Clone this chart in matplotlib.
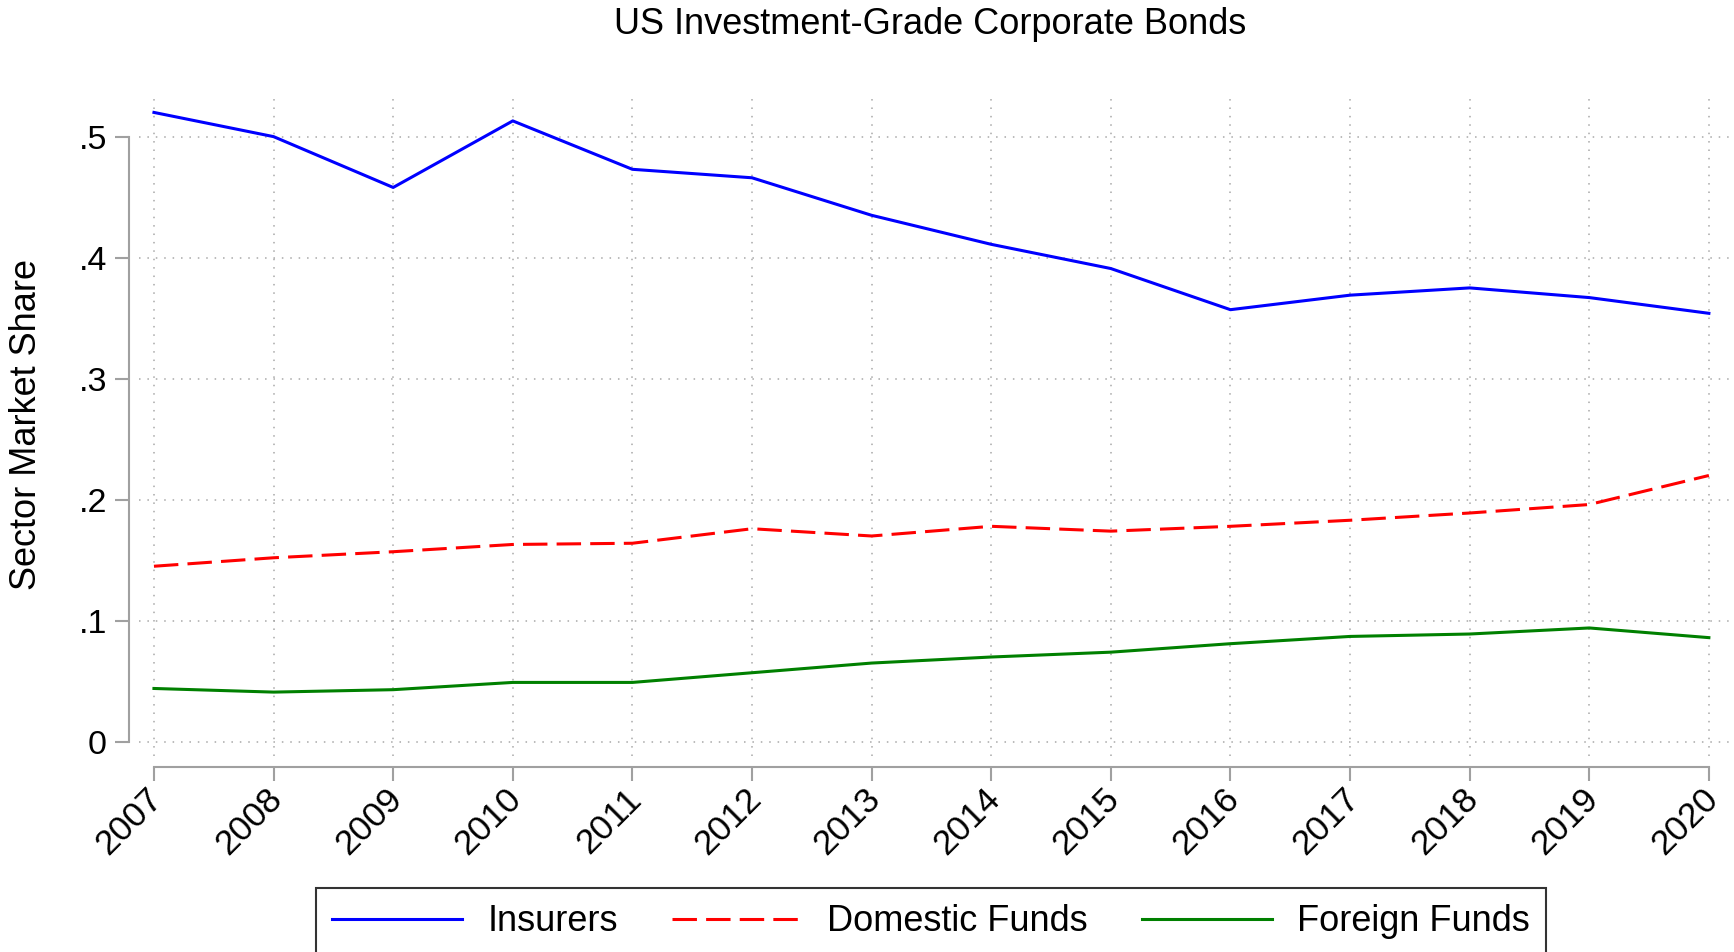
import matplotlib
matplotlib.use("Agg")
import matplotlib.pyplot as plt
import matplotlib.transforms as mtransforms

plt.rcParams['font.family'] = ['Liberation Sans', 'DejaVu Sans']

years = [2007, 2008, 2009, 2010, 2011, 2012, 2013, 2014, 2015, 2016, 2017, 2018, 2019, 2020]
insurers = [0.520, 0.500, 0.458, 0.513, 0.473, 0.466, 0.435, 0.411, 0.391, 0.357, 0.369, 0.375, 0.367, 0.354]
domestic = [0.145, 0.152, 0.157, 0.163, 0.164, 0.176, 0.170, 0.178, 0.174, 0.178, 0.183, 0.189, 0.196, 0.220]
foreign = [0.044, 0.041, 0.043, 0.049, 0.049, 0.057, 0.065, 0.070, 0.074, 0.081, 0.087, 0.089, 0.094, 0.086]
yticks = [0, 0.1, 0.2, 0.3, 0.4, 0.5]
ytick_labels = ['0', '.1', '.2', '.3', '.4', '.5']

fs = 26
tfs = 24.5
fig = plt.figure(figsize=(17.34, 9.52), dpi=100)
ax = fig.add_axes([139/1734, 1-756/952, 1-139/1734, (756-95)/952])

# stata-like detached axes (do this before setting ticks, set_position resets them)
for s in ['top', 'right']:
    ax.spines[s].set_visible(False)
ax.spines['left'].set_position(('outward', 7))
ax.spines['bottom'].set_position(('outward', 8))

ax.plot(years, insurers, color='#0000ff', lw=2.2, label='Insurers')
ax.plot(years, domestic, color='#ff0000', lw=2.2, dashes=(8, 3), label='Domestic Funds')
ax.plot(years, foreign, color='#008000', lw=2.2, label='Foreign Funds')

ax.set_xlim(2006.875, 2020.21)
ax.set_ylim(-0.0118, 0.5344)

ax.set_xticks(years)
ax.set_xticklabels([str(y) for y in years], rotation=45, ha='right', rotation_mode='anchor', fontsize=25.5)
ax.set_yticks(yticks)
ax.set_yticklabels(ytick_labels, fontsize=tfs)

ax.grid(True, color='#a8a8a8', linestyle=(0, (1, 4.5)), lw=1.1)

ax.spines['left'].set_bounds(0, 0.5)
ax.spines['bottom'].set_bounds(2007, 2020)
for s in ['left', 'bottom']:
    ax.spines[s].set_color('#a0a0a0')
    ax.spines[s].set_linewidth(1.5)
ax.tick_params(axis='both', color='#a0a0a0', width=1.5, length=10)
ax.tick_params(axis='y', pad=6)
ax.tick_params(axis='x', pad=1)

# nudge the rotated year labels a little to the left
shift = mtransforms.ScaledTranslation(-8/100, 0, fig.dpi_scale_trans)
for lab in ax.get_xticklabels():
    lab.set_transform(lab.get_transform() + shift)

fig.text(930/1734, 1-24/952, 'US Investment-Grade Corporate Bonds', ha='center', va='center', fontsize=fs)
fig.text(27/1734, 1-425/952, 'Sector Market Share', rotation=90, ha='center', va='center', fontsize=fs)

leg = fig.legend(loc='upper center', bbox_to_anchor=(931/1734, 1-888/952), ncol=3, fontsize=fs,
                 frameon=True, fancybox=False, edgecolor='black', handlelength=3.6,
                 handletextpad=0.7, columnspacing=1.5, borderpad=0.45, borderaxespad=0)
leg.get_frame().set_linewidth(1.5)

fig.savefig('out.png', dpi=100)
